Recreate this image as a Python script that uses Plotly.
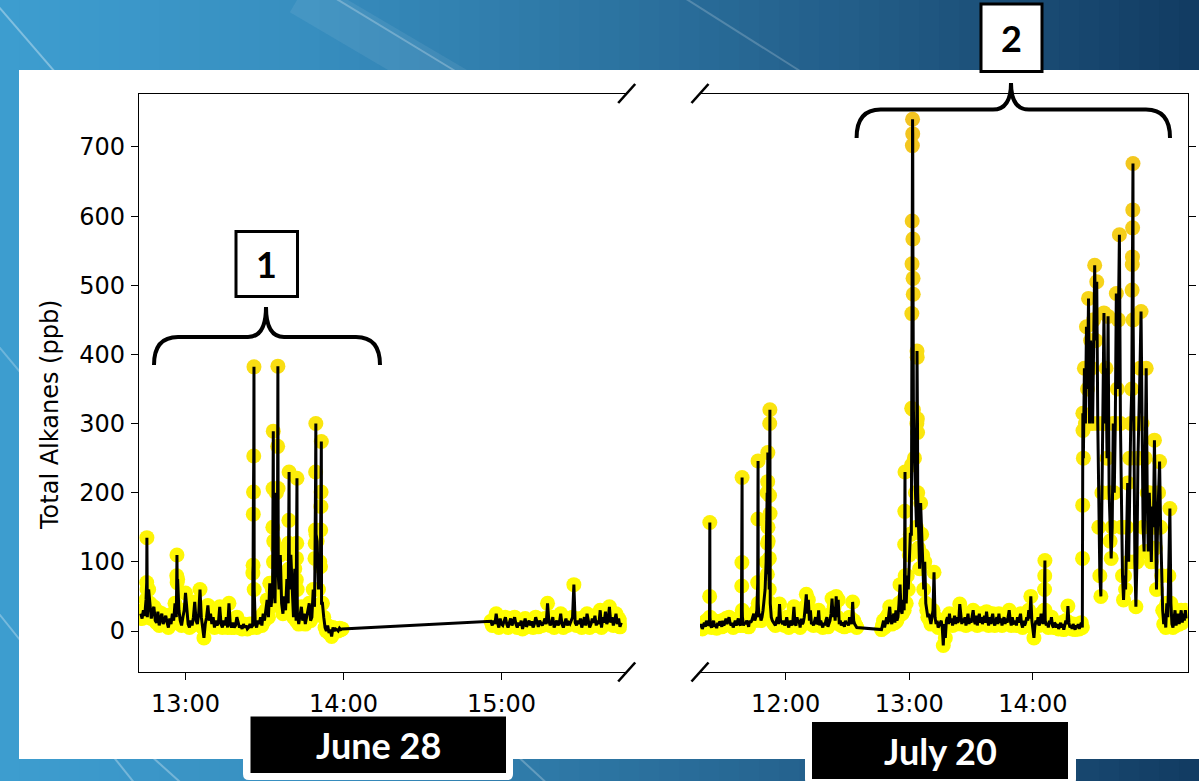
import pandas as pd
import plotly.graph_objects as go

W, H = 1199, 781

# ---------------- data ----------------
JUNE_DATE = "2021-06-28"
JULY_DATE = "2021-07-20"
STEP_S = 30    # base sampling interval (s)
BURST_S = 5    # sampling interval inside fast bursts (s)

june_seg_start = ["12:43:00", "14:56:00"]
june_seg1 = [
    25, 18, 30, 22, 45, 20, 60, 40, 18, 30,
    35, 15, 12, 28, 8, 18, 25, 10, 15, 22,
    12, 5, 18, 10, 25, 15, 40, 20, 75, 30,
    15, 8, 20, 30, 55, 25, 10, 5, 15, 8,
    20, 42, 15, 10, 25, 60, 20, 5, -10, 10,
    20, 37, 15, 25, 10, 20, 5, 15, 8, 12,
    35, 10, 5, 15, 8, 20, 5, 40, 10, 5,
    12, 5, 8, 20, 10, 5, 8, 3, 10, 5,
    8, 3, 5, 10, 5, 8, 30, 10, 5, 15,
    10, 20, 8, 25, 15, 30, 45, 20, 69, 35,
    60, 130, 40, 200, 90, 60, 110, 40, 25, 50,
    30, 75, 40, 60, 110, 60, 20, 90, 15, 25,
    10, 20, 35, 15, 25, 10, 20, 30, 40, 15,
    20, 60, 35, 90, 130, 60, 100, 150, 40, 20,
    5, 0, 8, -3, 2, -8, 5, 0, 3, 2,
    0, 4, 2, 3,
]
june_seg2 = [
    14, 8, 15, 10, 25, 12, 5, 18, 10, 8,
    15, 20, 10, 5, 12, 18, 8, 14, 20, 10,
    5, 12, 8, 15, 3, 10, 18, 6, 12, 15,
    8, 14, 5, 10, 20, 12, 6, 15, 10, 8,
    12, 18, 10, 40, 15, 8, 12, 20, 5, 10,
    15, 8, 12, 25, 10, 5, 14, 18, 8, 12,
    10, 15, 20, 67, 12, 8, 15, 10, 18, 5,
    12, 20, 8, 25, 15, 5, 10, 18, 12, 22,
    8, 15, 10, 30, 5, 20, 12, 28, 10, 15,
    35, 12, 20, 8, 15, 25, 10, 18, 6, 12,
]
june_burst_start = ["12:45:15", "12:56:40", "13:25:35", "13:33:05", "13:34:55",
                    "13:39:05", "13:42:05", "13:49:10", "13:51:15"]
june_burst_vals = [
    [70, 135, 60],
    [80, 110, 70],
    [84, 95, 169, 201, 253, 382, 60],
    [60, 150, 206, 289, 100],
    [120, 267, 383, 206, 80],
    [88, 127, 160, 230, 90],
    [74, 105, 127, 221, 60],
    [105, 127, 146, 230, 300, 140],
    [93, 146, 180, 201, 274, 40],
]

july_seg_start = ["11:18:30", "12:46:30"]
july_seg1 = [
    5, 10, 3, 8, 12, 6, 15, 10, 8, 12,
    8, 5, 12, 15, 6, 10, 4, 12, 8, 14,
    10, 6, 15, 8, 12, 18, 10, 14, 20, 12,
    8, 12, 5, 10, 15, 8, 12, 18, 10, 8,
    15, 20, 8, 12, 10, 15, 12, 6, 15, 12,
    15, 20, 25, 15, 20, 30, 45, 20, 25, 15,
    20, 30, 45, 60, 100, 200, 130, 60, 30, 20,
    15, 12, 10, 8, 15, 20, 10, 39, 15, 12,
    10, 15, 8, 12, 20, 10, 5, 15, 12, 8,
    15, 35, 10, 8, 20, 12, 15, 5, 18, 10,
    12, 20, 35, 53, 25, 45, 15, 30, 10, 12,
    8, 15, 20, 10, 12, 30, 8, 15, 10, 5,
    12, 8, 15, 20, 6, 10, 15, 25, 47, 20,
    35, 15, 50, 20, 45, 10, 15, 8, 12, 10,
    6, 15, 10, 12, 8, 20, 14, 10, 42, 15,
    10, 8, 5,
]
july_seg2 = [
    2, 8, 15, 5, 12, 20, 10, 25, 35, 15,
    10, 20, 25, 12, 30, 15, 20, 40, 67, 30,
    25, 45, 30, 60, 40, 80, 60, 110, 140, 180,
    400, 300, 250, 200, 150, 180, 120, 90, 185, 140,
    110, 60, 100, 40, 30, 20, 25, 15, 10, 20,
    30, 85, 20, 10, 15, 5, 8, 12, 15, 5,
    -21, 10, -10, 15, 20, 10, 25, 12, 18, 8,
    15, 22, 10, 20, 12, 15, 39, 25, 10, 18,
    12, 20, 8, 15, 25, 10, 18, 12, 20, 30,
    15, 10, 22, 8, 18, 25, 12, 20, 10, 15,
    22, 12, 28, 15, 8, 20, 10, 18, 25, 12,
    8, 15, 20, 10, 25, 12, 18, 8, 15, 20,
    10, 18, 12, 22, 30, 15, 8, 20, 12, 10,
    15, 8, 20, 12, 18, 25, 10, 5, 15, 8,
    12, 20, 15, 30, 18, 50, 15, 5, -10, 8,
    15, 10, 20, 8, 12, 25, 18, 10, 30, 15,
    8, 12, 5, 15, 10, 20, 8, 5, 12, 10,
    5, 10, 3, 8, 12, 5, 10, 2, 8, 15,
    10, 36, 12, 5, 8, 3, 10, 5, 2, 8,
    5, 10, 3, 8, 12, 5, 250, 380, 300, 440,
    350, 481, 300, 420, 380, 300, 450, 529, 420, 505,
    300, 150, 80, 50, 200, 300, 460, 300, 380, 250,
    455, 200, 130, 105, 150, 300, 200, 300, 488, 350,
    450, 573, 300, 150, 80, 45, 80, 60, 150, 214,
    100, 250, 300, 350, 600, 300, 100, 35, 100, 250,
    300, 380, 462, 300, 150, 115, 250, 380, 200, 115,
    200, 150, 100, 180, 150, 276, 120, 60, 150, 200,
    245, 150, 80, 30, 10, 25, 5, 40, 20, 80,
    177, 40, 10, 5, 20, 30, 8, 15, 25, 10,
    20, 30, 12, 25, 15, 30, 18,
]
july_burst_start = ["11:23:05", "11:38:40", "11:46:25", "11:51:05", "11:52:05",
                    "12:57:40", "13:01:00", "13:03:40", "14:05:40", "14:24:05", "14:48:10"]
july_burst_vals = [
    [50, 157, 20],
    [65, 99, 222, 30],
    [70, 162, 246, 40],
    [82, 127, 216, 258, 150],
    [105, 196, 300, 320, 170, 40],
    [70, 125, 173, 230, 80],
    [140, 240, 322, 459, 531, 593, 702, 740, 719, 567, 510, 487, 320],
    [300, 405, 396, 307, 287, 200],
    [60, 80, 102, 30],
    [105, 182, 315, 290],
    [493, 530, 541, 583, 609, 676, 450],
]

june_ticks = ["13:00", "14:00", "15:00"]
july_ticks = ["12:00", "13:00", "14:00"]
y_ticks = [0, 100, 200, 300, 400, 500, 600, 700]
y_title = "Total Alkanes (ppb)"
june_label = "June 28"
july_label = "July 20"
box_labels = ["1", "2"]


def build_series(date, seg_starts, segs, burst_starts, burst_vals):
    base = []
    for s, vals in zip(seg_starts, segs):
        t0 = pd.Timestamp(f"{date} {s}")
        base += [(t0 + pd.Timedelta(seconds=STEP_S * i), v) for i, v in enumerate(vals)]
    spans, extra = [], []
    for s, vals in zip(burst_starts, burst_vals):
        t0 = pd.Timestamp(f"{date} {s}")
        ts = [t0 + pd.Timedelta(seconds=BURST_S * i) for i in range(len(vals))]
        spans.append((ts[0], ts[-1]))
        extra += list(zip(ts, vals))
    kept = [p for p in base if not any(a <= p[0] <= b for a, b in spans)]
    pts = sorted(kept + extra, key=lambda p: p[0])
    return [p[0].strftime("%Y-%m-%d %H:%M:%S") for p in pts], [p[1] for p in pts]


jx, jy = build_series(JUNE_DATE, june_seg_start, [june_seg1, june_seg2], june_burst_start, june_burst_vals)
kx, ky = build_series(JULY_DATE, july_seg_start, [july_seg1, july_seg2], july_burst_start, july_burst_vals)

# ---------------- figure ----------------
def px(x):
    return x / W


def py(y):
    return 1 - y / H


CSCALE = [[0, "#ffff00"], [0.35, "#fbe80c"], [0.7, "#f6d21a"], [1, "#f2c320"]]
fig = go.Figure()
for xs, ys, xa, ya in [(jx, jy, "x", "y"), (kx, ky, "x2", "y2")]:
    fig.add_trace(go.Scatter(x=xs, y=ys, xaxis=xa, yaxis=ya, mode="markers",
                             marker=dict(size=15, color=ys, colorscale=CSCALE, cmin=0, cmax=740,
                                         line=dict(width=0)),
                             hoverinfo="skip"))
    fig.add_trace(go.Scatter(x=xs, y=ys, xaxis=xa, yaxis=ya, mode="lines",
                             line=dict(color="black", width=3), hoverinfo="skip"))

YR = [-59.3, 776.6]
YDOM = [py(672), py(94)]
tickfont = dict(family="DejaVu Sans", size=24, color="black")
common_x = dict(type="date", showline=True, linecolor="black", linewidth=1.4, mirror=True,
                ticks="outside", ticklen=7, tickwidth=1.4, tickcolor="black",
                showgrid=False, zeroline=False, tickfont=tickfont, ticklabelstandoff=3)
common_y = dict(range=YR, domain=YDOM, showline=True, linecolor="black", linewidth=1.4,
                ticks="outside", ticklen=7, tickwidth=1.4, tickcolor="black",
                showgrid=False, zeroline=False, tickfont=tickfont, tickvals=y_ticks,
                ticklabelstandoff=1)

fig.update_layout(
    width=W, height=H, margin=dict(l=0, r=0, t=0, b=0),
    paper_bgcolor="#2c729d", plot_bgcolor="rgba(0,0,0,0)", showlegend=False,
    font=dict(family="DejaVu Sans", color="black"),
    xaxis=dict(common_x, domain=[px(139), px(626.7)], anchor="y",
               range=[f"{JUNE_DATE} 12:42:20", f"{JUNE_DATE} 15:47:34"],
               tickvals=[f"{JUNE_DATE} {t}:00" for t in june_ticks], ticktext=june_ticks),
    yaxis=dict(common_y, anchor="x", side="left"),
    xaxis2=dict(common_x, domain=[px(700), px(1187.6)], anchor="y2",
                range=[f"{JULY_DATE} 11:18:24", f"{JULY_DATE} 15:15:06"],
                tickvals=[f"{JULY_DATE} {t}:00" for t in july_ticks], ticktext=july_ticks),
    yaxis2=dict(common_y, anchor="x2", side="right", showticklabels=False),
)

shapes = []
# background gradient
stops = [(0, (62, 158, 208)), (300, (56, 143, 192)), (600, (45, 117, 162)),
         (850, (35, 94, 137)), (1199, (18, 60, 98))]
N = 60
for i in range(N):
    x0 = W * i / N
    x1 = W * (i + 1) / N
    xm = (x0 + x1) / 2
    for (a, ca), (b, cb) in zip(stops[:-1], stops[1:]):
        if a <= xm <= b:
            f = (xm - a) / (b - a)
            c = tuple(int(ca[k] + (cb[k] - ca[k]) * f) for k in range(3))
            break
    shapes.append(dict(type="rect", xref="paper", yref="paper", x0=px(x0), x1=px(x1) + 0.001,
                       y0=0, y1=1, fillcolor="rgb(%d,%d,%d)" % c, line=dict(width=0), layer="below"))
# light diagonal streaks
for (x0, y0, x1, y1, w, op) in [(-20, -15, 200, 240, 2, 0.35), (300, -5, 470, 95, 40, 0.07),
                                (330, -5, 470, 80, 2, 0.25), (680, -5, 830, 90, 2, 0.2),
                                (-60, 540, 140, 790, 2, 0.3), (-40, 300, 60, 420, 2, 0.25),
                                (120, 728, 200, 800, 2, 0.3), (500, 740, 565, 800, 2, 0.25)]:
    shapes.append(dict(type="line", xref="paper", yref="paper", x0=px(x0), y0=py(y0),
                       x1=px(x1), y1=py(y1), line=dict(color="rgba(255,255,255,%.2f)" % op, width=w),
                       layer="below"))
# white panel
shapes.append(dict(type="rect", xref="paper", yref="paper", x0=px(19), x1=1.001, y0=py(759), y1=py(70),
                   fillcolor="white", line=dict(width=0), layer="below"))


def rounded_bottom(x0, x1, y0, y1, r=6):
    return (f"M {px(x0)},{py(y0)} L {px(x0)},{py(y1 - r)} Q {px(x0)},{py(y1)} {px(x0 + r)},{py(y1)} "
            f"L {px(x1 - r)},{py(y1)} Q {px(x1)},{py(y1)} {px(x1)},{py(y1 - r)} L {px(x1)},{py(y0)} Z")


shapes.append(dict(type="path", xref="paper", yref="paper", path=rounded_bottom(243, 513, 740, 780),
                   fillcolor="white", line=dict(width=0), layer="below"))
shapes.append(dict(type="path", xref="paper", yref="paper", path=rounded_bottom(805, 1076, 740, 785),
                   fillcolor="white", line=dict(width=0), layer="below"))
# black label boxes
for (x0, x1, y0, y1) in [(250.5, 506, 716.5, 773), (812, 1068, 722, 779)]:
    shapes.append(dict(type="rect", xref="paper", yref="paper", x0=px(x0), x1=px(x1), y0=py(y1), y1=py(y0),
                       fillcolor="black", line=dict(width=0), layer="above"))
# axis-break marks
for (cx, cy) in [(626.7, 93.5), (626.7, 672), (700, 93.5), (700, 672)]:
    shapes.append(dict(type="line", xref="paper", yref="paper", x0=px(cx - 8.5), y0=py(cy + 9.5),
                       x1=px(cx + 8.5), y1=py(cy - 9.5), line=dict(color="black", width=2.6), layer="above"))


def brace(xl, xr, xc, ybot, yh, ytip, r=24):
    return (f"M {px(xl)},{py(ybot)} Q {px(xl)},{py(yh)} {px(xl + r)},{py(yh)} "
            f"L {px(xc - 18)},{py(yh)} Q {px(xc)},{py(yh)} {px(xc)},{py(ytip)} "
            f"Q {px(xc)},{py(yh)} {px(xc + 18)},{py(yh)} "
            f"L {px(xr - r)},{py(yh)} Q {px(xr)},{py(yh)} {px(xr)},{py(ybot)}")


shapes.append(dict(type="path", xref="paper", yref="paper", path=brace(154, 380, 266, 365, 337, 307),
                   line=dict(color="black", width=4), layer="above"))
shapes.append(dict(type="path", xref="paper", yref="paper", path=brace(856.6, 1170, 1011, 138, 109.6, 83),
                   line=dict(color="black", width=4), layer="above"))
# numbered boxes
for (x0, x1, y0, y1) in [(236, 297.5, 231.5, 296.5), (981, 1042, 4, 71.5)]:
    shapes.append(dict(type="rect", xref="paper", yref="paper", x0=px(x0), x1=px(x1), y0=py(y1), y1=py(y0),
                       fillcolor="white", line=dict(color="black", width=3), layer="above"))
fig.update_layout(shapes=shapes)

ann = []
ann.append(dict(text=y_title, x=px(50), y=py(415), xref="paper", yref="paper", textangle=-90,
                xanchor="center", yanchor="middle",
                showarrow=False, font=dict(family="DejaVu Sans", size=24, color="black")))
for txt, cx, cy in [(june_label, 378, 745), (july_label, 940, 751)]:
    ann.append(dict(text="<b>%s</b>" % txt, x=px(cx), y=py(cy), xref="paper", yref="paper",
                    xanchor="center", yanchor="middle",
                    showarrow=False, font=dict(family="Lato", size=36, color="white")))
for txt, cx, cy in [(box_labels[0], 266.8, 264), (box_labels[1], 1011.5, 38)]:
    ann.append(dict(text="<b>%s</b>" % txt, x=px(cx), y=py(cy), xref="paper", yref="paper",
                    xanchor="center", yanchor="middle",
                    showarrow=False, font=dict(family="Lato", size=36, color="black")))
fig.update_layout(annotations=ann)

fig.write_html("out.html", config={"displayModeBar": False},
               post_script="document.body.style.margin='0';document.body.style.overflow='hidden';")
